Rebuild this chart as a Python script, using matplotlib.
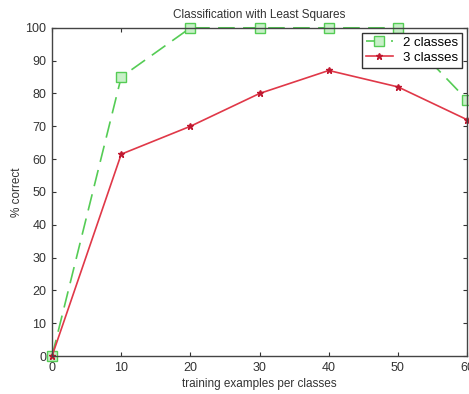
import matplotlib
matplotlib.use('Agg')
from matplotlib import pyplot as plt

plt.rcParams['font.family'] = ['Liberation Sans', 'DejaVu Sans']

examples = [0, 10, 20, 30, 40, 50, 60]
two_classes = [0, 85, 100, 100, 100, 100, 78]
three_classes = [0, 61.5, 70, 80, 87, 82, 72]

fig = plt.figure(figsize=(4.69, 3.94), dpi=100)
ax = fig.add_axes([0.111, 0.0964, 0.885, 0.833])

ax.plot(examples, two_classes, color='#55cc55', linestyle=(0, (10, 5)), linewidth=1.2,
        marker='s', markersize=7, markerfacecolor='#c8f0c8', markeredgecolor='#55cc55',
        label='2 classes', clip_on=False)
ax.plot(examples, three_classes, color='#e03848', linewidth=1.2,
        marker='*', markersize=5, markerfacecolor='#c01830', markeredgecolor='#c01830',
        label='3 classes', clip_on=False)

ax.set_xlim(0, 60)
ax.set_ylim(0, 100)
ax.set_xticks(range(0, 61, 10))
ax.set_yticks(range(0, 101, 10))
ax.tick_params(direction='in', top=True, right=True, labelsize=9, length=3, pad=4,
               colors='#333333')
for s in ax.spines.values():
    s.set_color('#444444')
    s.set_linewidth(1.0)

ax.set_title('Classification with Least Squares', fontsize=8.5, color='#333333', pad=7)
ax.set_xlabel('training examples per classes', fontsize=8.5, color='#333333', labelpad=3)
ax.set_ylabel('% correct', fontsize=8.5, color='#333333', labelpad=2)

leg = ax.legend(loc='upper right', fontsize=9.5, fancybox=False, framealpha=1,
                edgecolor='#333333', borderpad=0.3, handlelength=2.0,
                bbox_to_anchor=(0.988, 0.985), labelspacing=0.2, borderaxespad=0)
leg.get_frame().set_linewidth(1.0)

fig.savefig('out.png', dpi=100)
